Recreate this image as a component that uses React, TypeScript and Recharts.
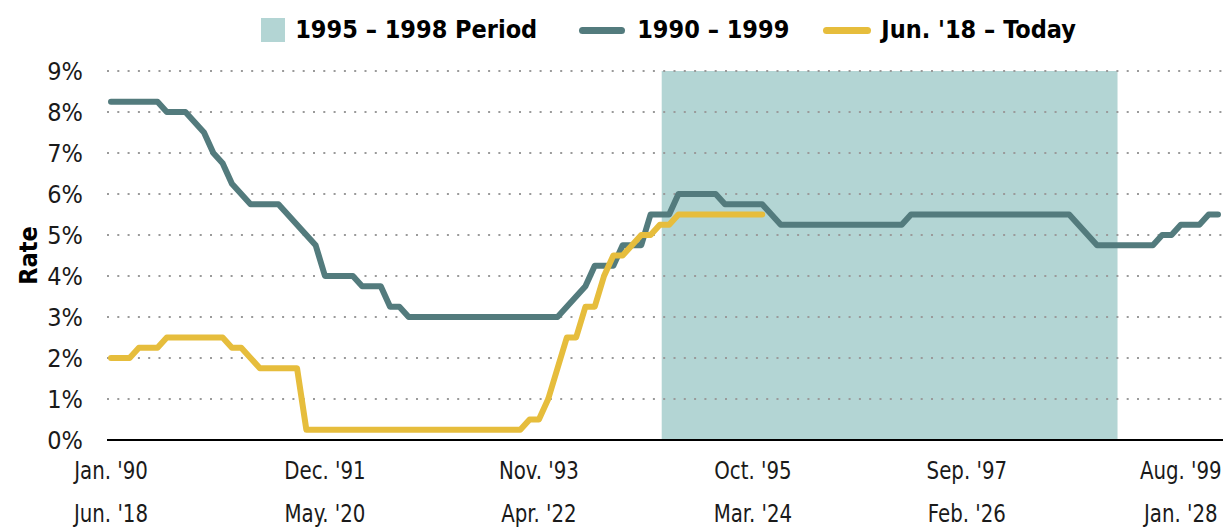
import React from 'react';
import { LineChart, Line, XAxis, YAxis, ReferenceArea, ReferenceLine, Legend } from 'recharts';

// Monthly target rate, Jan. '90 .. Dec. '99 (index = months since Jan. '90)
const rates1990s: number[] = [
  8.25, 8.25, 8.25, 8.25, 8.25, 8.25, 8.0, 8.0, 8.0, 7.75, 7.5, 7.0,
  6.75, 6.25, 6.0, 5.75, 5.75, 5.75, 5.75, 5.5, 5.25, 5.0, 4.75, 4.0,
  4.0, 4.0, 4.0, 3.75, 3.75, 3.75, 3.25, 3.25, 3.0, 3.0, 3.0, 3.0,
  3.0, 3.0, 3.0, 3.0, 3.0, 3.0, 3.0, 3.0, 3.0, 3.0, 3.0, 3.0,
  3.0, 3.25, 3.5, 3.75, 4.25, 4.25, 4.25, 4.75, 4.75, 4.75, 5.5, 5.5,
  5.5, 6.0, 6.0, 6.0, 6.0, 6.0, 5.75, 5.75, 5.75, 5.75, 5.75, 5.5,
  5.25, 5.25, 5.25, 5.25, 5.25, 5.25, 5.25, 5.25, 5.25, 5.25, 5.25, 5.25,
  5.25, 5.25, 5.5, 5.5, 5.5, 5.5, 5.5, 5.5, 5.5, 5.5, 5.5, 5.5,
  5.5, 5.5, 5.5, 5.5, 5.5, 5.5, 5.5, 5.5, 5.25, 5.0, 4.75, 4.75,
  4.75, 4.75, 4.75, 4.75, 4.75, 5.0, 5.0, 5.25, 5.25, 5.25, 5.5, 5.5,
];

// Monthly target rate, Jun. '18 .. Apr. '24 (same month index)
const ratesToday: number[] = [
  2.0, 2.0, 2.0, 2.25, 2.25, 2.25, 2.5,
  2.5, 2.5, 2.5, 2.5, 2.5, 2.5, 2.25, 2.25, 2.0, 1.75, 1.75, 1.75,
  1.75, 1.75, 0.25, 0.25, 0.25, 0.25, 0.25, 0.25, 0.25, 0.25, 0.25, 0.25,
  0.25, 0.25, 0.25, 0.25, 0.25, 0.25, 0.25, 0.25, 0.25, 0.25, 0.25, 0.25,
  0.25, 0.25, 0.5, 0.5, 1.0, 1.75, 2.5, 2.5, 3.25, 3.25, 4.0, 4.5,
  4.5, 4.75, 5.0, 5.0, 5.25, 5.25, 5.5, 5.5, 5.5, 5.5, 5.5, 5.5,
  5.5, 5.5, 5.5, 5.5,
];

const tickMonths: number[] = [0, 23, 46, 69, 92, 115];
const tickLabels1990s: string[] = ["Jan. '90", "Dec. '91", "Nov. '93", "Oct. '95", "Sep. '97", "Aug. '99"];
const tickLabelsToday: string[] = ["Jun. '18", "May. '20", "Apr. '22", "Mar. '24", "Feb. '26", "Jan. '28"];
const yTicks: number[] = [0, 1, 2, 3, 4, 5, 6, 7, 8, 9];
const gridValues: number[] = [1, 2, 3, 4, 5, 6, 7, 8, 9];
const periodRange: number[] = [59.2, 108.2];

const table = rates1990s.map((v, i) => ({
  m: i,
  a: v,
  b: i < ratesToday.length ? ratesToday[i] : null,
}));

const FONT = "'DejaVu Sans Condensed', 'Liberation Sans', sans-serif";
const DARK = '#537B7D';
const YELLOW = '#E6BD3C';
const SHADE = '#B3D5D4';
const TEXT = '#1a1a1a';

const XTick = (props: any) => {
  const { x, y, payload } = props;
  const i = tickMonths.indexOf(payload.value);
  return (
    <g transform={`translate(${x} ${y}) scale(0.88 1)`}>
      <text x={0} y={39} textAnchor="middle" fontFamily={FONT} fontSize={25} fill={TEXT}>
        {tickLabels1990s[i]}
      </text>
      <text x={0} y={82} textAnchor="middle" fontFamily={FONT} fontSize={25} fill={TEXT}>
        {tickLabelsToday[i]}
      </text>
    </g>
  );
};

const RateLabel = (props: any) => {
  const vb = props.viewBox || { x: 0, y: 0, width: 0, height: 0 };
  const cx = vb.x + 28;
  const cy = vb.y + vb.height / 2;
  return (
    <text
      x={cx}
      y={cy}
      transform={`rotate(-90 ${cx} ${cy})`}
      textAnchor="middle"
      dominantBaseline="central"
      fontFamily={FONT}
      fontWeight={700}
      fontSize={25}
      fill="#000"
    >
      Rate
    </text>
  );
};

const LegendContent = () => (
  <div
    style={{
      display: 'flex',
      justifyContent: 'center',
      alignItems: 'center',
      paddingLeft: 114,
      fontFamily: FONT,
      fontWeight: 700,
      fontSize: 25,
      color: '#000',
      lineHeight: '30px',
    }}
  >
    <span style={{ display: 'inline-block', width: 24, height: 24, background: SHADE, marginRight: 10 }} />
    <span style={{ marginRight: 42 }}>1995 – 1998 Period</span>
    <span style={{ display: 'inline-block', width: 46, height: 7, borderRadius: 4, background: DARK, marginRight: 12 }} />
    <span style={{ marginRight: 34 }}>1990 – 1999</span>
    <span style={{ display: 'inline-block', width: 48, height: 7, borderRadius: 4, background: YELLOW, marginRight: 10 }} />
    <span>Jun. '18 – Today</span>
  </div>
);

export default function App() {
  return (
    <div style={{ position: 'absolute', left: 0, top: 0, width: 1223, height: 529, background: '#fff' }}>
      <LineChart width={1223} height={529} data={table} margin={{ top: 71, right: 0, bottom: 0, left: 0 }}>
        <XAxis
          dataKey="m"
          type="number"
          domain={[0, 119]}
          ticks={tickMonths}
          interval={0}
          padding={{ left: 4, right: 5 }}
          height={89}
          tickSize={0}
          tickMargin={0}
          tickLine={false}
          axisLine={{ stroke: '#000', strokeWidth: 2 }}
          tick={<XTick />}
        />
        <YAxis
          type="number"
          domain={[0, 9]}
          ticks={yTicks}
          interval={0}
          width={107}
          tickSize={0}
          tickMargin={24}
          tickLine={false}
          axisLine={false}
          tickFormatter={(v: number) => `${v}%`}
          tick={{ fontFamily: FONT, fontSize: 25, fill: TEXT }}
          label={{ content: (p: any) => <RateLabel {...p} /> }}
        />
        <Legend
          verticalAlign="middle"
          align="center"
          wrapperStyle={{ top: 15, left: 0, width: 1223 }}
          content={() => <LegendContent />}
        />
        <ReferenceArea
          x1={periodRange[0]}
          x2={periodRange[1]}
          fill={SHADE}
          fillOpacity={1}
          stroke="none"
        />
        {gridValues.map((g) => (
          <ReferenceLine key={g} y={g} stroke="#9a9a9a" strokeWidth={2} strokeDasharray="2 8.3" />
        ))}
        <Line
          type="linear"
          dataKey="a"
          stroke={DARK}
          strokeWidth={6}
          strokeLinecap="round"
          strokeLinejoin="round"
          dot={false}
          activeDot={false}
          isAnimationActive={false}
          name="1990 – 1999"
        />
        <Line
          type="linear"
          dataKey="b"
          stroke={YELLOW}
          strokeWidth={6}
          strokeLinecap="round"
          strokeLinejoin="round"
          dot={false}
          activeDot={false}
          isAnimationActive={false}
          name="Jun. '18 – Today"
        />
      </LineChart>
    </div>
  );
}
